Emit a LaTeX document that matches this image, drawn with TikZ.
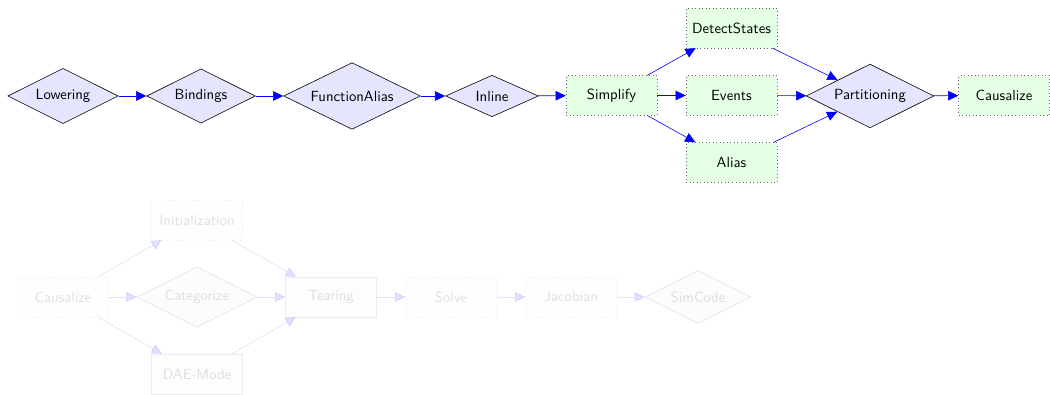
\documentclass[tikz,border=0pt]{standalone}
\usetikzlibrary{shapes.geometric,arrows.meta}
\renewcommand{\familydefault}{\sfdefault}
\begin{document}
\begin{tikzpicture}[x=1cm,y=1cm,
  passbox/.style={draw=black!60, dotted, fill=green!10, minimum width=2.17cm, minimum height=0.95cm},
  solidbox/.style={draw=black!60, fill=red!10, minimum width=2.17cm, minimum height=0.95cm},
  decide/.style={draw, diamond, aspect=2, fill=blue!10},
  flow/.style={draw=blue, -{Triangle[length=7pt,width=6.5pt]}}]
\useasboundingbox (0,0) rectangle (25.095,-9.417);
% front end
\node[decide] (low) at (1.506,-2.294) {Lowering};
\node[decide] (bind) at (4.804,-2.294) {Bindings};
\node[decide, minimum width=3.27cm] (falias) at (8.413,-2.294) {FunctionAlias};
\node[decide, minimum width=2.22cm] (inl) at (11.759,-2.294) {Inline};
\node[passbox] (simp) at (14.615,-2.282) {Simplify};
\node[passbox] (dstates) at (17.483,-0.669) {DetectStates};
\node[passbox] (events) at (17.483,-2.282) {Events};
\node[passbox] (alias) at (17.483,-3.884) {Alias};
\node[decide] (part) at (20.793,-2.294) {Partitioning};
\node[passbox] (caus) at (23.996,-2.282) {Causalize};
\draw[flow] (low) -- (bind);
\draw[flow] (bind) -- (falias);
\draw[flow] (falias) -- (inl);
\draw[flow] (inl) -- (simp);
\draw[flow] (simp) -- (dstates);
\draw[flow] (simp) -- (events);
\draw[flow] (simp) -- (alias);
\draw[flow] (dstates) -- (part);
\draw[flow] (events) -- (part);
\draw[flow] (alias) -- (part);
\draw[flow] (part) -- (caus);
% back end, faded
\begin{scope}[opacity=0.12]
\node[passbox] (caus2) at (1.506,-7.098) {Causalize};
\node[passbox] (init) at (4.708,-5.258) {Initialization};
\node[decide] (cat) at (4.708,-7.098) {Categorize};
\node[solidbox] (dae) at (4.708,-8.939) {DAE-Mode};
\node[solidbox] (tear) at (7.911,-7.098) {Tearing};
\node[passbox] (solve) at (10.779,-7.098) {Solve};
\node[passbox] (jac) at (13.647,-7.098) {Jacobian};
\node[decide] (simc) at (16.682,-7.098) {SimCode};
\draw[flow] (caus2) -- (init);
\draw[flow] (caus2) -- (cat);
\draw[flow] (caus2) -- (dae);
\draw[flow] (init) -- (tear);
\draw[flow] (cat) -- (tear);
\draw[flow] (dae) -- (tear);
\draw[flow] (tear) -- (solve);
\draw[flow] (solve) -- (jac);
\draw[flow] (jac) -- (simc);
\end{scope}
\end{tikzpicture}
\end{document}
